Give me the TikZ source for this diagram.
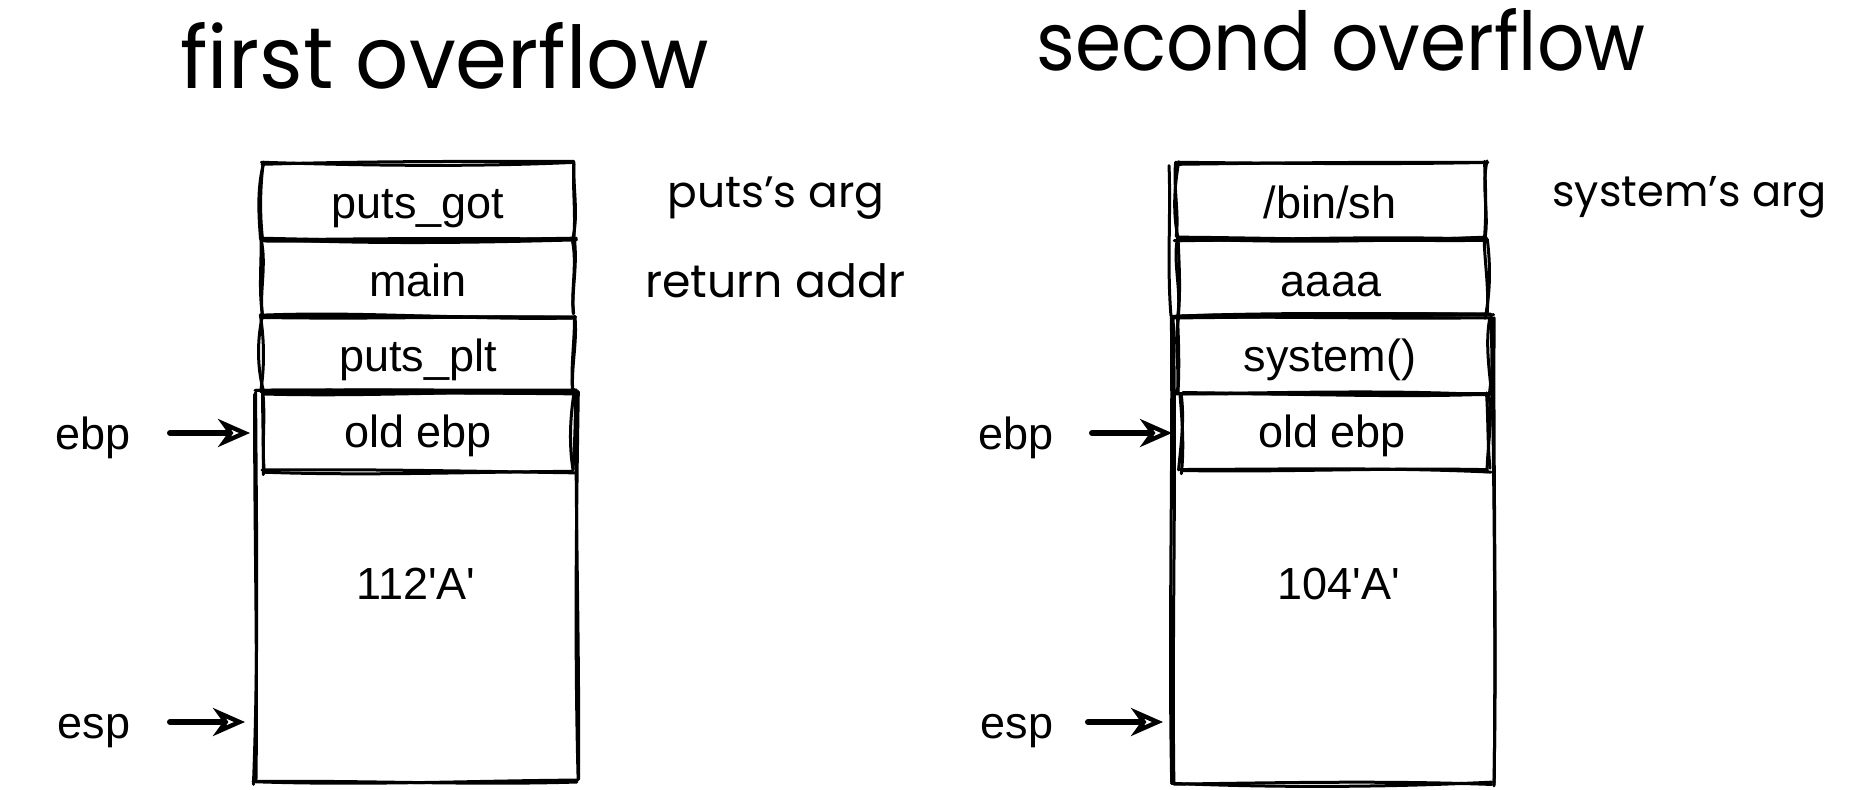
\documentclass[tikz,border=0pt]{standalone}
\usepackage{fontspec}
\setmainfont{Liberation Sans}
\newfontfamily\hand{Poppins}
\usetikzlibrary{arrows.meta}
\newcommand\skh[3]{\draw[sk] ({#1+3*rand},{#3+2*rand}) .. controls ({#1+(#2-#1)/3},{#3+5*rand}) and ({#1+2*(#2-#1)/3},{#3+5*rand}) .. ({#2+3*rand},{#3+2*rand});}
\newcommand\skv[3]{\draw[sk] ({#1+2*rand},{#2+3*rand}) .. controls ({#1+5*rand},{#2+(#3-#2)/3}) and ({#1+5*rand},{#2+2*(#3-#2)/3}) .. ({#1+2*rand},{#3+3*rand});}
\newcommand\skrect[4]{\skh{#1}{#3}{#2}\skh{#1}{#3}{#2}\skh{#1}{#3}{#4}\skh{#1}{#3}{#4}\skv{#1}{#2}{#4}\skv{#1}{#2}{#4}\skv{#3}{#2}{#4}\skv{#3}{#2}{#4}}
\begin{document}
\pgfmathsetseed{3}
\begin{tikzpicture}[x=0.5pt,y=-0.5pt,
  sk/.style={line width=1.5pt, line cap=round, line join=round},
  cell/.style={font=\fontsize{22.5}{27}\selectfont, anchor=base, inner sep=0pt},
  hnd/.style={anchor=base west, inner sep=0pt},
  skarrow/.style={line width=3pt, line cap=round, -{Stealth[open, length=16pt, width=14pt, inset=5pt, line width=2.2pt]}}]
\fill[white] (0,0) rectangle (1856,790);
\useasboundingbox (0,0) rectangle (1856,790);
% titles
\node[hnd] (t1) at (180,89) {\resizebox{264pt}{33pt}{\hand first overflow}};
\node[hnd] (t2) at (1036,71) {\resizebox{304.5pt}{31pt}{\hand second overflow}};
% left stack
\skrect{262}{163}{574}{240}
\skrect{262}{240}{574}{316}
\skrect{262}{316}{574}{392}
\skrect{255}{392}{577}{782}
\skrect{264}{392}{574}{472}
% right stack
\skrect{1177}{163}{1486}{239}
\skrect{1177}{239}{1486}{316}
\skrect{1177}{316}{1490}{393}
\skrect{1172}{316}{1493}{783}
\skrect{1180}{393}{1488}{471}
\skv{1170}{165}{316}
% cell texts
\node[cell] (pg) at (418,219) {puts\_got};
\node[cell] (mn) at (418,297) {main};
\node[cell] (pp) at (418,372) {puts\_plt};
\node[cell] (oe1) at (418,448) {old ebp};
\node[cell] (a1) at (416,599) {112\textquotesingle A\textquotesingle};
\node[cell] (bs) at (1330,219) {/bin/sh};
\node[cell] (aa) at (1331,297) {aaaa};
\node[cell] (sy) at (1330,372) {system()};
\node[cell] (oe2) at (1332,448) {old ebp};
\node[cell] (a2) at (1339,599) {104\textquotesingle A\textquotesingle};
% register labels
\node[cell] (ebp1) at (93,450) {ebp};
\node[cell] (esp1) at (94,738) {esp};
\node[cell] (ebp2) at (1016,450) {ebp};
\node[cell] (esp2) at (1017,738) {esp};
% annotations
\node[hnd] (n1) at (667,208) {\resizebox{108.5pt}{!}{\hand puts’s arg}};
\node[hnd] (n2) at (645,298) {\resizebox{130pt}{!}{\hand return addr}};
\node[hnd] (n3) at (1552,207) {\resizebox{137pt}{!}{\hand system’s arg}};
% arrows
\coordinate (e1s) at (170,433); \coordinate (e1t) at (250,433);
\coordinate (s1s) at (170,722); \coordinate (s1t) at (245,722);
\coordinate (e2s) at (1092,433); \coordinate (e2t) at (1172,433);
\coordinate (s2s) at (1088,722); \coordinate (s2t) at (1163,722);
\draw[skarrow] (e1s) -- (e1t);
\draw[skarrow] (s1s) -- (s1t);
\draw[skarrow] (e2s) -- (e2t);
\draw[skarrow] (s2s) -- (s2t);
\end{tikzpicture}
\end{document}
